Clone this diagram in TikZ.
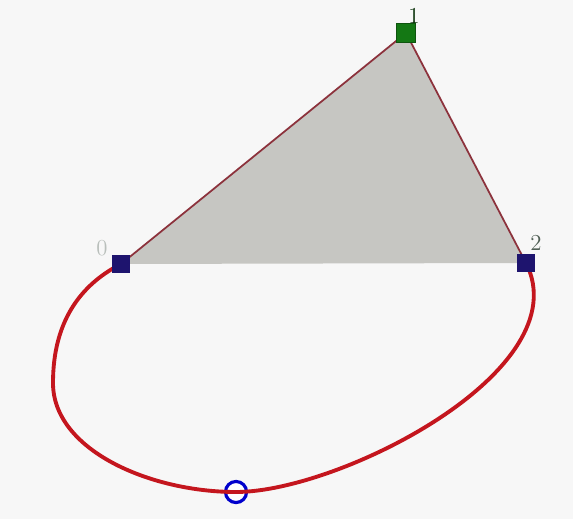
\documentclass[tikz,border=0pt]{standalone}
\usepackage{tikz}

\definecolor{bgcol}{RGB}{247,247,247}
\definecolor{facecol}{RGB}{198,198,194}
\definecolor{edgecol}{RGB}{140,50,60}
\definecolor{curvecol}{RGB}{196,22,30}
\definecolor{ptcol}{RGB}{30,20,110}
\definecolor{topcol}{RGB}{20,120,20}
\definecolor{labcol}{RGB}{80,95,85}

\begin{document}
\begin{tikzpicture}[x=0.02cm, y=-0.02cm,
    vsquare/.style={draw=ptcol, fill=ptcol, minimum size=10pt, inner sep=0pt},
    tsquare/.style={draw=topcol!70!black, fill=topcol, minimum size=11pt, inner sep=0pt},
    vcircle/.style={circle, draw=blue!80!black, line width=1.8pt, fill=white, minimum size=12pt, inner sep=0pt},
    vlabel/.style={text=labcol, font=\fontsize{13}{13}\selectfont, inner sep=0pt},
    edge/.style={draw=edgecol, line width=1pt},
    curve/.style={draw=curvecol, line width=2.2pt}]
  \fill[bgcol] (0,0) rectangle (573,519);
  \useasboundingbox (0,0) rectangle (573,519);
  \coordinate (p0) at (121,264);
  \coordinate (p1) at (406,33);
  \coordinate (p2) at (526,263);
  \coordinate (p3) at (236,492);
  \coordinate (w) at (53,383);
  % face
  \fill[facecol] (p0) -- (p1) -- (p2) -- cycle;
  \draw[edge] (p0) -- (p1) -- (p2);
  % curve
  \node[vcircle] (c3) at (p3) {};
  \draw[curve] (p0) .. controls (80,285) and (53,322) .. (w)
    .. controls (53,450) and (150,492) .. (p3)
    .. controls (340,492) and (580,370) .. (p2);
  % points
  \node[vsquare] (v0) at (p0) {};
  \node[tsquare] (v1) at (p1) {};
  \node[vsquare] (v2) at (p2) {};
  \node[vlabel, text=labcol!40] (l0) at (102,248) {0};
  \node[vlabel, text=topcol!40!black] (l1) at (414,16) {1};
  \node[vlabel] (l2) at (536,243) {2};
\end{tikzpicture}
\end{document}
